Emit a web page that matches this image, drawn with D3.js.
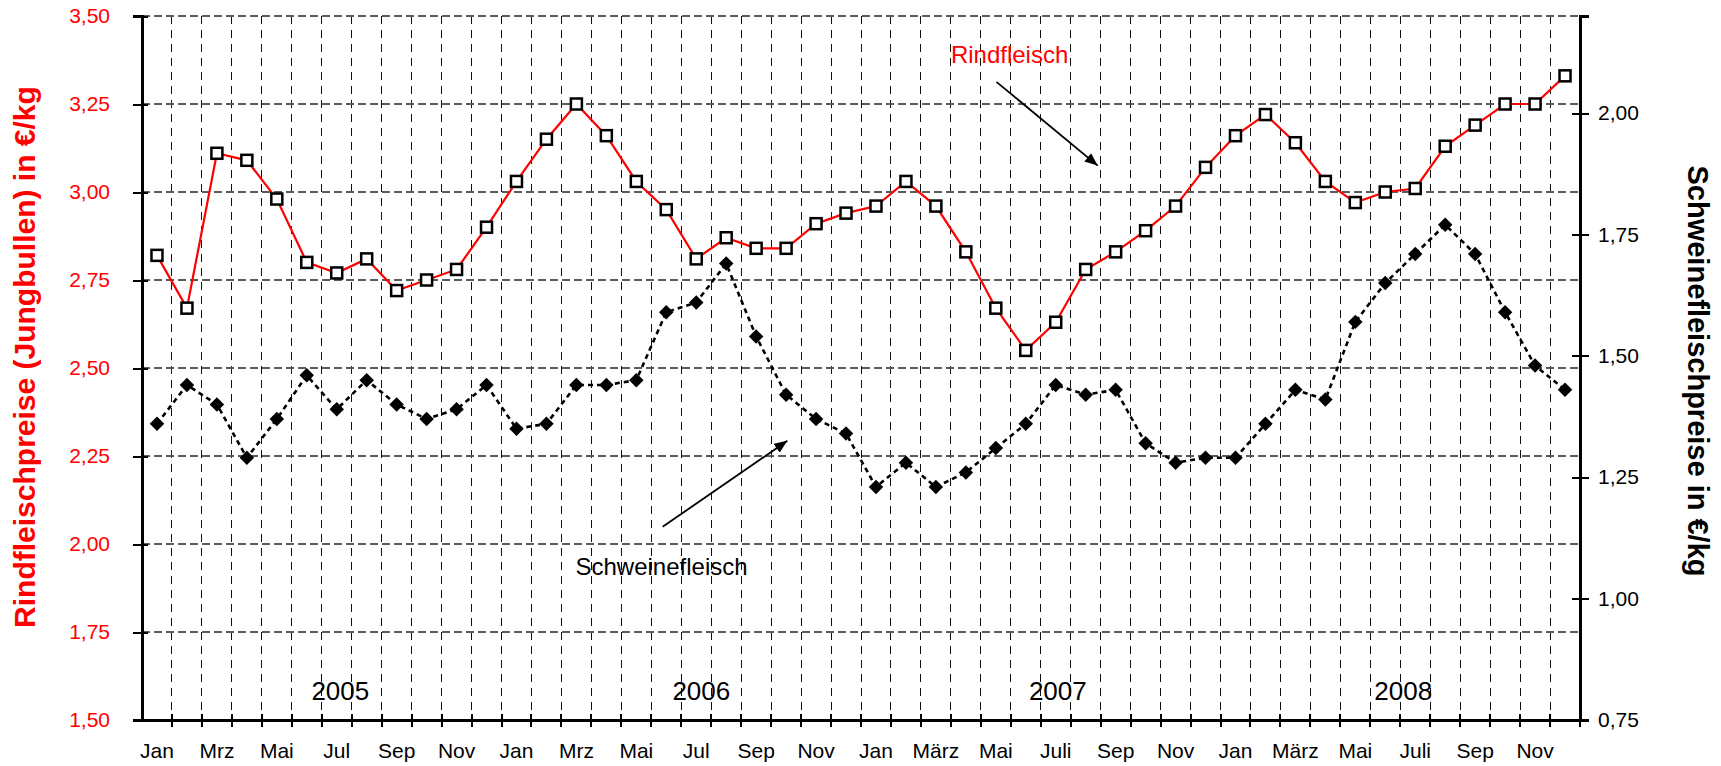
<!doctype html>
<html lang='de'>
<head>
<meta charset='UTF-8'>
<title>Rind- und Schweinefleischpreise</title>
<style>
  body,html{
    margin: 0;
    padding: 0;
    background: #fff;
    font-family: 'Liberation Sans', Arial, sans-serif;
  }
  .axis path, .axis line{
    fill: none;
    stroke: #000;
    shape-rendering: crispEdges;
  }
  .grid-h{ stroke: #5a5a5a; stroke-width: 1.4; stroke-dasharray: 8 4; shape-rendering: crispEdges; }
  .grid-v{ stroke: #111; stroke-width: 1; stroke-dasharray: 8 6; shape-rendering: crispEdges; }
</style>
</head>
<body>
<script src='https://d3js.org/d3.v7.min.js'></script>
<script>
  // Monate Jan 2005 - Dez 2008
  const years = ['2005', '2006', '2007', '2008']
  const months = []
  years.forEach(y => d3.range(1, 13).forEach(m => months.push(y + '-' + m)))

  // Beschriftung jedes zweiten Monats
  const tickLabels = [
    'Jan', 'Mrz', 'Mai', 'Jul', 'Sep', 'Nov',
    'Jan', 'Mrz', 'Mai', 'Jul', 'Sep', 'Nov',
    'Jan', 'März', 'Mai', 'Juli', 'Sep', 'Nov',
    'Jan', 'März', 'Mai', 'Juli', 'Sep', 'Nov'
  ]

  // Rindfleischpreise (Jungbullen) €/kg - linke Achse
  const rind = [
    2.82, 2.67, 3.11, 3.09, 2.98, 2.80, 2.77, 2.81, 2.72, 2.75, 2.78, 2.90,
    3.03, 3.15, 3.25, 3.16, 3.03, 2.95, 2.81, 2.87, 2.84, 2.84, 2.91, 2.94,
    2.96, 3.03, 2.96, 2.83, 2.67, 2.55, 2.63, 2.78, 2.83, 2.89, 2.96, 3.07,
    3.16, 3.22, 3.14, 3.03, 2.97, 3.00, 3.01, 3.13, 3.19, 3.25, 3.25, 3.33
  ]

  // Schweinefleischpreise €/kg - rechte Achse
  const schwein = [
    1.36, 1.44, 1.40, 1.29, 1.37, 1.46, 1.39, 1.45, 1.40, 1.37, 1.39, 1.44,
    1.35, 1.36, 1.44, 1.44, 1.45, 1.59, 1.61, 1.69, 1.54, 1.42, 1.37, 1.34,
    1.23, 1.28, 1.23, 1.26, 1.31, 1.36, 1.44, 1.42, 1.43, 1.32, 1.28, 1.29,
    1.29, 1.36, 1.43, 1.41, 1.57, 1.65, 1.71, 1.77, 1.71, 1.59, 1.48, 1.43
  ]

  const leftTicks = [1.5, 1.75, 2.0, 2.25, 2.5, 2.75, 3.0, 3.25, 3.5]
  const rightTicks = [0.75, 1.0, 1.25, 1.5, 1.75, 2.0]

  const w = 1721
  const h = 766
  const margin = {top: 16, bottom: 46, left: 142, right: 141}
  const width = w - margin.left - margin.right
  const height = h - margin.top - margin.bottom

  const x = d3.scaleBand()
    .domain(months)
    .range([0, width])
    .padding(0)

  const yL = d3.scaleLinear().domain([1.5, 3.5]).range([height, 0])
  const yR = d3.scaleLinear().domain([0.75, 2.2]).range([height, 0])

  const fmt = d => d3.format('.2f')(d).replace('.', ',')
  const cx = (d, i) => x(months[i]) + x.bandwidth() / 2
  // Position in Monaten (für Beschriftungen)
  const mx = m => x.range()[0] + m * x.step()

  const svg = d3.select('body').append('svg')
    .attr('width', w)
    .attr('height', h)

  const chart = svg.append('g')
    .attr('transform', `translate(${margin.left}, ${margin.top})`)

  // Pfeilspitze
  svg.append('defs').append('marker')
    .attr('id', 'arrow')
    .attr('viewBox', '0 0 12 10')
    .attr('refX', 12).attr('refY', 5)
    .attr('markerWidth', 13).attr('markerHeight', 11)
    .attr('markerUnits', 'userSpaceOnUse')
    .attr('orient', 'auto')
    .append('path')
    .attr('d', 'M0,0 L12,5 L0,10 Z')
    .attr('fill', '#000')

  /******** Gitter ********/
  chart.append('g').selectAll('line')
    .data(months.slice(1))
    .enter().append('line')
    .classed('grid-v', true)
    .attr('x1', d => x(d)).attr('x2', d => x(d))
    .attr('y1', 0).attr('y2', height)

  chart.append('g').selectAll('line')
    .data(leftTicks.slice(1))
    .enter().append('line')
    .classed('grid-h', true)
    .attr('x1', 0).attr('x2', width)
    .attr('y1', d => yL(d)).attr('y2', d => yL(d))

  /******** Achsen ********/
  const leftAxis = chart.append('g')
    .classed('axis', true)
    .call(d3.axisLeft(yL).tickValues(leftTicks).tickFormat(fmt).tickSizeOuter(0).tickSize(9).tickPadding(23))
  leftAxis.select('.domain').attr('stroke-width', 2.6)
  leftAxis.selectAll('.tick line').attr('x1', 6).attr('stroke-width', 2)
  leftAxis.selectAll('.tick text')
    .attr('fill', '#f00')
    .style('font-size', '21px')

  const rightAxis = chart.append('g')
    .classed('axis', true)
    .attr('transform', `translate(${width}, 0)`)
    .call(d3.axisRight(yR).tickValues(rightTicks).tickFormat(fmt).tickSizeOuter(0).tickSize(9).tickPadding(9))
  rightAxis.select('.domain').attr('stroke-width', 2.6)
  rightAxis.selectAll('.tick line').attr('x1', -8).attr('stroke-width', 2)
  rightAxis.selectAll('.tick text')
    .attr('fill', '#000')
    .style('font-size', '21px')

  const bottomAxis = chart.append('g')
    .classed('axis', true)
    .attr('transform', `translate(0, ${height})`)
    .call(d3.axisBottom(x)
      .tickValues(months.filter((d, i) => i % 2 === 0))
      .tickFormat((d, i) => tickLabels[i])
      .tickSize(0).tickSizeOuter(0).tickPadding(23))
  bottomAxis.select('.domain').attr('stroke-width', 2.6)
  bottomAxis.selectAll('.tick text')
    .attr('fill', '#000')
    .style('font-size', '21px')

  // Teilstriche an den Monatsgrenzen
  bottomAxis.append('g').selectAll('line')
    .data(months.slice(1).concat(['end']))
    .enter().append('line')
    .attr('x1', d => d === 'end' ? width : x(d))
    .attr('x2', d => d === 'end' ? width : x(d))
    .attr('y1', -6).attr('y2', 7)
    .attr('stroke', '#000').attr('stroke-width', 2)

  // Jahreszahlen
  const yearOffset = [0.62, 0.67, 0.57, 0.1]
  chart.append('g').selectAll('text')
    .data(years)
    .enter().append('text')
    .attr('x', (d, i) => x(d + '-7') + x.bandwidth() * yearOffset[i])
    .attr('y', height - 20)
    .attr('text-anchor', 'middle')
    .style('font-size', '26px')
    .text(d => d)

  /******** Linien ********/
  chart.append('path')
    .datum(schwein)
    .attr('fill', 'none')
    .attr('stroke', '#000')
    .attr('stroke-width', 2.6)
    .attr('stroke-dasharray', '5 4')
    .attr('d', d3.line().x(cx).y(d => yR(d)))

  chart.append('path')
    .datum(rind)
    .attr('fill', 'none')
    .attr('stroke', '#f00')
    .attr('stroke-width', 2.2)
    .attr('d', d3.line().x(cx).y(d => yL(d)))

  chart.append('g').selectAll('path')
    .data(schwein)
    .enter().append('path')
    .attr('d', d3.symbol(d3.symbolSquare, 105))
    .attr('transform', (d, i) => `translate(${cx(d, i)}, ${yR(d)}) rotate(45)`)
    .attr('fill', '#000')

  chart.append('g').selectAll('rect')
    .data(rind)
    .enter().append('rect')
    .attr('x', (d, i) => cx(d, i) - 5.5)
    .attr('y', d => yL(d) - 5.5)
    .attr('width', 11).attr('height', 11)
    .attr('fill', '#fff')
    .attr('stroke', '#000')
    .attr('stroke-width', 2.5)

  /******** Beschriftungen ********/
  chart.append('text')
    .attr('x', mx(27.0)).attr('y', yL(3.366))
    .attr('fill', '#f00')
    .style('font-size', '24px')
    .text('Rindfleisch')

  chart.append('line')
    .attr('x1', mx(28.52)).attr('y1', yL(3.313))
    .attr('x2', mx(31.9)).attr('y2', yL(3.075))
    .attr('stroke', '#000').attr('stroke-width', 1.8)
    .attr('marker-end', 'url(#arrow)')

  chart.append('text')
    .attr('x', mx(14.47)).attr('y', yL(1.912))
    .attr('fill', '#000')
    .style('font-size', '24px')
    .text('Schweinefleisch')

  chart.append('line')
    .attr('x1', mx(17.38)).attr('y1', yL(2.049))
    .attr('x2', mx(21.54)).attr('y2', yL(2.293))
    .attr('stroke', '#000').attr('stroke-width', 1.8)
    .attr('marker-end', 'url(#arrow)')

  /******** Achsentitel ********/
  svg.append('text')
    .attr('transform', `translate(35, 357) rotate(-90)`)
    .attr('text-anchor', 'middle')
    .attr('fill', '#f00')
    .style('font-size', '30px')
    .style('font-weight', 'bold')
    .text('Rindfleischpreise (Jungbullen) in €/kg')

  svg.append('text')
    .attr('transform', `translate(1688, 371) rotate(90)`)
    .attr('text-anchor', 'middle')
    .attr('fill', '#000')
    .style('font-size', '29px')
    .style('font-weight', 'bold')
    .text('Schweinefleischpreise in €/kg')
</script>
</body>
</html>
